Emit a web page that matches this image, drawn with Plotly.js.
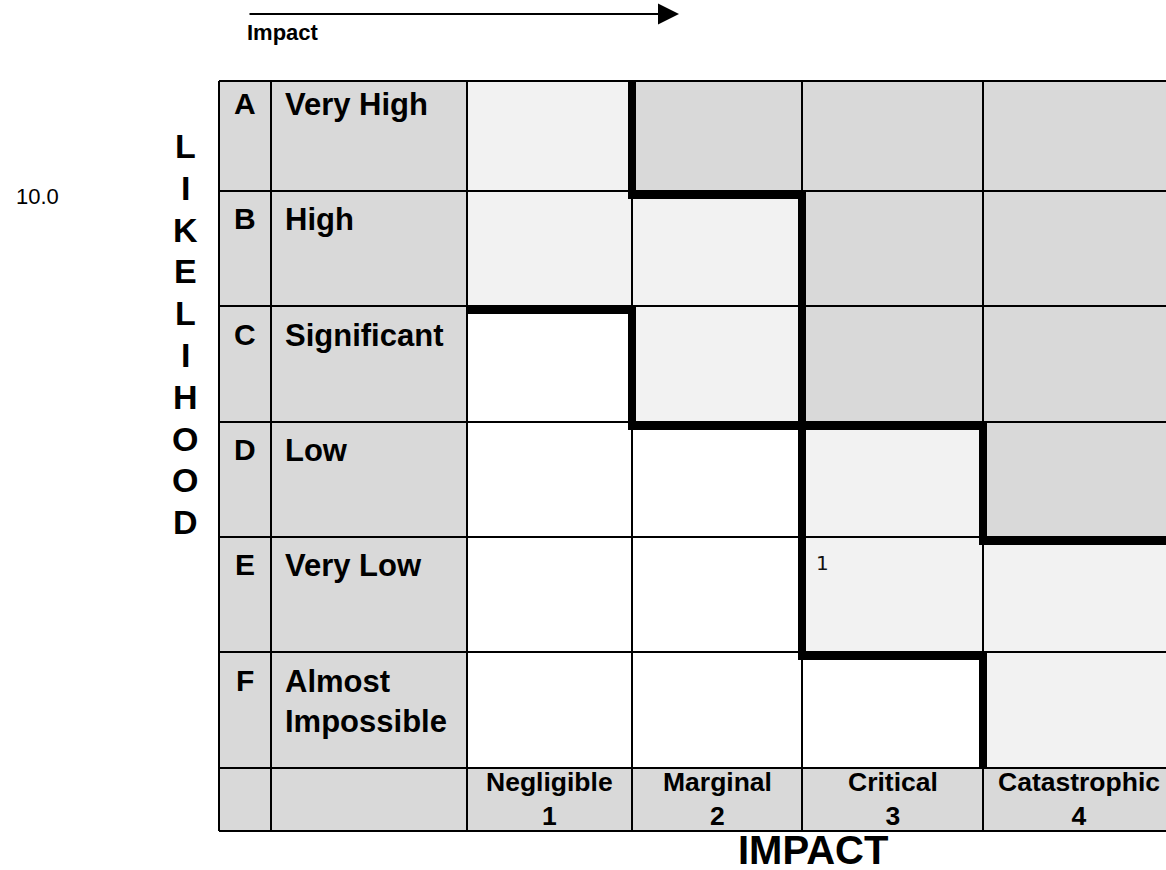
<!DOCTYPE html>
<html>
<head>
<meta charset="utf-8">
<script src="https://cdn.plot.ly/plotly-3.0.1.min.js"></script>
<style>
  html, body { margin: 0; padding: 0; background: #ffffff; }
  #chart { width: 1166px; height: 870px; }
</style>
</head>
<body>
<div id="chart"></div>
<script>
// ---------------- DATA ----------------
const likelihoodCodes = ['A', 'B', 'C', 'D', 'E', 'F'];
const likelihoodLabels = ['Very High', 'High', 'Significant', 'Low', 'Very Low', 'Almost<br>Impossible'];
const impactLabels = ['Negligible', 'Marginal', 'Critical', 'Catastrophic'];
const impactScores = ['1', '2', '3', '4'];
// risk zone per cell: 0 = low (white), 1 = medium (light grey), 2 = high (dark grey)
const riskLevels = [
  [1, 2, 2, 2],
  [1, 1, 2, 2],
  [0, 1, 2, 2],
  [0, 0, 1, 2],
  [0, 0, 1, 1],
  [0, 0, 0, 1]
];
// number of risks recorded in each cell
const riskCounts = [
  ['', '', '', ''],
  ['', '', '', ''],
  ['', '', '', ''],
  ['', '', '', ''],
  ['', '', '1', ''],
  ['', '', '', '']
];
const sideValue = '10.0';
const impactAxisTitle = 'IMPACT';
const likelihoodAxisTitle = 'LIKELIHOOD';
const arrowLabel = 'Impact';

// ---------------- LAYOUT CONSTANTS (pixel grid) ----------------
const COL_EDGES = [219, 271, 467, 632, 802, 983, 1175];
const ROW_EDGES = [81, 191, 306, 422, 537, 652, 768, 831];
const ZONE_COLORS = [[0, '#ffffff'], [0.5, '#f2f2f2'], [1, '#d9d9d9']];
const THICK = 8;
const FONT = 'Liberation Sans, Arial, sans-serif';

const nRows = likelihoodCodes.length;
const nCols = impactLabels.length;

// full table fill (label columns and header row use the dark zone colour)
const z = [];
for (let r = 0; r <= nRows; r++) {
  const row = [];
  for (let c = 0; c < nCols + 2; c++) {
    if (r === nRows || c < 2) row.push(2);
    else row.push(riskLevels[r][c - 2]);
  }
  z.push(row);
}

const traces = [];
traces.push({
  type: 'heatmap',
  x: COL_EDGES,
  y: ROW_EDGES,
  z: z,
  zmin: 0, zmax: 2,
  colorscale: ZONE_COLORS,
  showscale: false,
  hoverinfo: 'skip'
});

// thin grid
const gx = [], gy = [];
ROW_EDGES.forEach(y => { gx.push(COL_EDGES[0], COL_EDGES[COL_EDGES.length - 1], null); gy.push(y, y, null); });
COL_EDGES.forEach(x => { gx.push(x, x, null); gy.push(ROW_EDGES[0], ROW_EDGES[ROW_EDGES.length - 1], null); });
traces.push({ type: 'scatter', mode: 'lines', x: gx, y: gy, line: { color: '#000000', width: 2 }, hoverinfo: 'skip' });

// thick zone boundaries wherever neighbouring cells fall in different zones
const tx = [], ty = [];
for (let r = 0; r < nRows; r++) {
  for (let c = 0; c < nCols; c++) {
    if (c + 1 < nCols && riskLevels[r][c] !== riskLevels[r][c + 1]) {
      const x = COL_EDGES[c + 3];
      tx.push(x, x, null); ty.push(ROW_EDGES[r], ROW_EDGES[r + 1], null);
    }
    if (r + 1 < nRows && riskLevels[r][c] !== riskLevels[r + 1][c]) {
      const y = ROW_EDGES[r + 1] + THICK / 2;
      const x0 = c === 0 ? COL_EDGES[c + 2] : COL_EDGES[c + 2] - THICK / 2;
      const x1 = COL_EDGES[c + 3] + THICK / 2;
      tx.push(x0, x1, null); ty.push(y, y, null);
    }
  }
}
traces.push({ type: 'scatter', mode: 'lines', x: tx, y: ty, line: { color: '#000000', width: THICK }, hoverinfo: 'skip' });

// ---------------- ANNOTATIONS ----------------
const ann = [];
for (let r = 0; r < nRows; r++) {
  const yTop = ROW_EDGES[r + 1] - 106;
  ann.push({ x: (COL_EDGES[0] + COL_EDGES[1]) / 2, y: yTop, xref: 'x', yref: 'y', xanchor: 'center', yanchor: 'top',
    text: '<b>' + likelihoodCodes[r] + '</b>', showarrow: false, font: { family: FONT, size: 30, color: '#000' } });
  ann.push({ x: COL_EDGES[1] + 12, y: yTop, xref: 'x', yref: 'y', xanchor: 'left', yanchor: 'top', align: 'left',
    text: '<b>' + likelihoodLabels[r].replace('<br>', '</b><br><b>') + '</b>', showarrow: false,
    font: { family: FONT, size: 31, color: '#000' } });
  for (let c = 0; c < nCols; c++) {
    if (riskCounts[r][c] !== '') {
      ann.push({ x: COL_EDGES[c + 2] + 12, y: ROW_EDGES[r] + 26, xref: 'x', yref: 'y', xanchor: 'left', yanchor: 'middle',
        text: riskCounts[r][c], showarrow: false, font: { family: 'DejaVu Sans, sans-serif', size: 20, color: '#111' } });
    }
  }
}
for (let c = 0; c < nCols; c++) {
  ann.push({ x: (COL_EDGES[c + 2] + COL_EDGES[c + 3]) / 2, y: (ROW_EDGES[nRows] + ROW_EDGES[nRows + 1]) / 2 - 1,
    xref: 'x', yref: 'y', xanchor: 'center', yanchor: 'middle', align: 'center',
    text: '<b>' + impactLabels[c] + '</b><br><b>' + impactScores[c] + '</b>', showarrow: false,
    font: { family: FONT, size: 26.5, color: '#000' } });
}
// vertical LIKELIHOOD title, letter by letter
likelihoodAxisTitle.split('').forEach((ch, i) => {
  ann.push({ x: 185, y: 146 + 41.8 * i, xref: 'x', yref: 'y', xanchor: 'center', yanchor: 'middle',
    text: '<b>' + ch + '</b>', showarrow: false, font: { family: FONT, size: 34, color: '#000' } });
});
// IMPACT title
ann.push({ x: 813, y: 850, xref: 'x', yref: 'y', xanchor: 'center', yanchor: 'middle',
  text: '<b>' + impactAxisTitle + '</b>', showarrow: false, font: { family: FONT, size: 40, color: '#000' } });
// side value
ann.push({ x: 37, y: 196, xref: 'x', yref: 'y', xanchor: 'center', yanchor: 'middle',
  text: sideValue, showarrow: false, font: { family: FONT, size: 22, color: '#000' } });
// arrow and its label
ann.push({ x: 679, y: 14, ax: 248, ay: 14, xref: 'x', yref: 'y', axref: 'x', ayref: 'y', text: '',
  showarrow: true, arrowhead: 2, arrowsize: 2.1, arrowwidth: 2, arrowcolor: '#000', standoff: 0 });
ann.push({ x: 283, y: 32, xref: 'x', yref: 'y', xanchor: 'center', yanchor: 'middle',
  text: '<b>' + arrowLabel + '</b>', showarrow: false, font: { family: FONT, size: 22, color: '#000' } });

const layout = {
  width: 1166, height: 870,
  margin: { l: 0, r: 0, t: 0, b: 0 },
  paper_bgcolor: '#ffffff', plot_bgcolor: '#ffffff',
  showlegend: false,
  xaxis: { range: [0, 1166], visible: false, fixedrange: true },
  yaxis: { range: [870, 0], visible: false, fixedrange: true },
  annotations: ann
};

Plotly.newPlot('chart', traces, layout, { staticPlot: true, displayModeBar: false });
</script>
</body>
</html>
